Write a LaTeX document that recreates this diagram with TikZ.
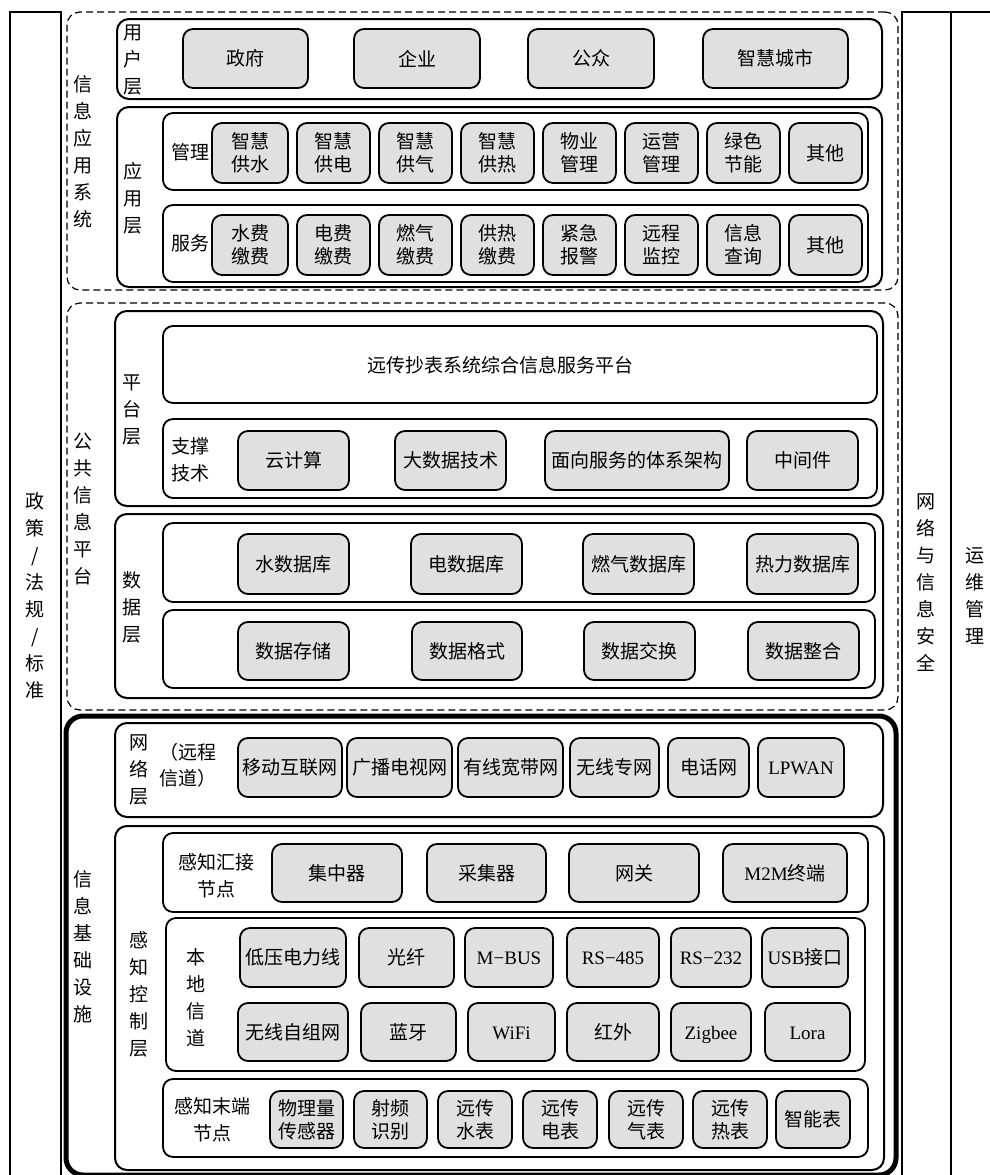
\documentclass[tikz,border=0pt]{standalone}
\usepackage{fontspec}
\setmainfont{Noto Sans CJK SC}
\newfontfamily\lat{Liberation Serif}
\newcommand\la[1]{\smash{\lat #1}\vphantom{中}}
\newcommand\mybox[7]{\node[#1, minimum width={(#5-#3)*1pt}, minimum height={(#6-#4)*1pt}] (#2) at ({(#3+#5)/2},{(#4+#6)/2}) {#7};}
\tikzset{
  base/.style={draw, line width=1.8pt, rounded corners=10pt, inner sep=0pt, outer sep=0pt, align=center, font=\fontsize{19}{23}\selectfont},
  gb/.style={base, fill=black!12},
  rowbox/.style={base},
  layerbox/.style={base, line width=2pt, rounded corners=12pt},
  dbox/.style={draw, line width=1.2pt, dash pattern=on 7pt off 4pt, rounded corners=13pt, inner sep=0pt, outer sep=0pt},
  tbox/.style={draw, line width=5pt, rounded corners=17pt, inner sep=0pt, outer sep=0pt},
  colbox/.style={draw, line width=2pt, inner sep=0pt, outer sep=0pt},
  lab/.style={align=center, inner sep=0pt, font=\fontsize{19}{27}\selectfont},
  lab2/.style={align=center, inner sep=0pt, font=\fontsize{19}{26}\selectfont},
}
\begin{document}
\begin{tikzpicture}[x=1pt,y=-1pt]
\useasboundingbox (0,0) rectangle (990,1175);
\fill[white] (0,0) rectangle (990,1175);
\clip (0,0) rectangle (990,1175);

% ---------- side columns ----------
\mybox{colbox}{policy}{10}{12}{61}{1195}{}
\node[lab] (policy-t) at (35,596) {政\\策\\/\\法\\规\\/\\标\\准};
\mybox{colbox}{sec}{902}{12}{951}{1195}{}
\node[lab] (sec-t) at (926,583) {网\\络\\与\\信\\息\\安\\全};
\mybox{colbox}{ops}{951}{12}{1005}{1195}{}
\node[lab] (ops-t) at (975,596) {运\\维\\管\\理};

% ---------- 信息应用系统 ----------
\mybox{dbox}{appsys}{67}{12}{898}{290}{}
\node[lab] (appsys-t) at (83,152) {信\\息\\应\\用\\系\\统};

% 用户层
\mybox{layerbox}{user}{117}{19}{882}{99}{}
\node[lab] (user-t) at (133,60) {用\\户\\层};
\mybox{gb}{u1}{183}{29}{308}{88}{政府}
\mybox{gb}{u2}{354}{29}{480}{88}{企业}
\mybox{gb}{u3}{528}{29}{654}{88}{公众}
\mybox{gb}{u4}{703}{29}{848}{88}{智慧城市}

% 应用层
\mybox{layerbox}{app}{117}{107}{882}{287}{}
\node[lab] (app-t) at (133,198) {应\\用\\层};
\mybox{rowbox}{mgmt}{163}{113}{868}{190}{}
\node[lab] (mgmt-t) at (190,152) {管理};
\mybox{gb}{m1}{212}{123}{288}{183}{智慧\\供水}
\mybox{gb}{m2}{297}{123}{370}{183}{智慧\\供电}
\mybox{gb}{m3}{379}{123}{452}{183}{智慧\\供气}
\mybox{gb}{m4}{461}{123}{534}{183}{智慧\\供热}
\mybox{gb}{m5}{543}{123}{616}{183}{物业\\管理}
\mybox{gb}{m6}{625}{123}{698}{183}{运营\\管理}
\mybox{gb}{m7}{707}{123}{780}{183}{绿色\\节能}
\mybox{gb}{m8}{789}{123}{862}{183}{其他}
\mybox{rowbox}{serv}{163}{205}{868}{282}{}
\node[lab] (serv-t) at (190,243) {服务};
\mybox{gb}{s1}{212}{215}{288}{275}{水费\\缴费}
\mybox{gb}{s2}{297}{215}{370}{275}{电费\\缴费}
\mybox{gb}{s3}{379}{215}{452}{275}{燃气\\缴费}
\mybox{gb}{s4}{461}{215}{534}{275}{供热\\缴费}
\mybox{gb}{s5}{543}{215}{616}{275}{紧急\\报警}
\mybox{gb}{s6}{625}{215}{698}{275}{远程\\监控}
\mybox{gb}{s7}{707}{215}{780}{275}{信息\\查询}
\mybox{gb}{s8}{789}{215}{862}{275}{其他}

% ---------- 公共信息平台 ----------
\mybox{dbox}{pub}{67}{303}{898}{710}{}
\node[lab] (pub-t) at (83,509) {公\\共\\信\\息\\平\\台};

% 平台层
\mybox{layerbox}{plat}{115}{311}{883}{506}{}
\node[lab] (plat-t) at (132,410) {平\\台\\层};
\mybox{rowbox}{svc}{163}{326}{877}{403}{}
\node[lab] (svc-t) at (500,365) {远传抄表系统综合信息服务平台};
\mybox{rowbox}{sup}{163}{419}{877}{498}{}
\node[lab] (sup-t) at (190,460) {支撑\\技术};
\mybox{gb}{t1}{238}{431}{349}{490}{云计算}
\mybox{gb}{t2}{395}{431}{506}{490}{大数据技术}
\mybox{gb}{t3}{545}{431}{729}{490}{面向服务的体系架构}
\mybox{gb}{t4}{747}{431}{858}{490}{中间件}

% 数据层
\mybox{layerbox}{data}{115}{514}{883}{698}{}
\node[lab] (data-t) at (132,607) {数\\据\\层};
\mybox{rowbox}{db}{163}{523}{875}{602}{}
\mybox{gb}{d1}{238}{534}{349}{594}{水数据库}
\mybox{gb}{d2}{411}{534}{522}{594}{电数据库}
\mybox{gb}{d3}{583}{534}{694}{594}{燃气数据库}
\mybox{gb}{d4}{747}{534}{858}{594}{热力数据库}
\mybox{rowbox}{dops}{163}{610}{875}{688}{}
\mybox{gb}{e1}{238}{622}{349}{680}{数据存储}
\mybox{gb}{e2}{412}{622}{522}{680}{数据格式}
\mybox{gb}{e3}{584}{622}{695}{680}{数据交换}
\mybox{gb}{e4}{748}{622}{859}{680}{数据整合}

% ---------- 信息基础设施 ----------
\mybox{tbox}{infra}{66}{716}{896}{1175}{}
\node[lab] (infra-t) at (83,947) {信\\息\\基\\础\\设\\施};

% 网络层
\mybox{layerbox}{net}{115}{723}{883}{817}{}
\node[lab] (net-t) at (139,770) {网\\络\\层};
\node[lab2] (remote-t) at (188,765) {（远程\\信道）};
\mybox{gb}{n1}{238}{738}{342}{797}{移动互联网}
\mybox{gb}{n2}{347}{738}{452}{797}{广播电视网}
\mybox{gb}{n3}{458}{738}{563}{797}{有线宽带网}
\mybox{gb}{n4}{570}{738}{659}{797}{无线专网}
\mybox{gb}{n5}{668}{738}{749}{797}{电话网}
\mybox{gb}{n6}{758}{738}{844}{797}{\la{LPWAN}}

% 感知控制层
\mybox{layerbox}{sense}{115}{826}{884}{1170}{}
\node[lab] (sense-t) at (139,994) {感\\知\\控\\制\\层};

\mybox{rowbox}{agg}{163}{833}{868}{912}{}
\node[lab] (agg-t) at (216,876) {感知汇接\\节点};
\mybox{gb}{a1}{272}{844}{402}{902}{集中器}
\mybox{gb}{a2}{427}{844}{546}{902}{采集器}
\mybox{gb}{a3}{569}{844}{699}{902}{网关}
\mybox{gb}{a4}{723}{844}{847}{902}{{\lat M2M}终端}

\mybox{rowbox}{local}{166}{918}{865}{1071}{}
\node[lab] (local-t) at (196,998) {本\\地\\信\\道};
\mybox{gb}{l1}{240}{928}{346}{987}{低压电力线}
\mybox{gb}{l2}{359}{928}{454}{987}{光纤}
\mybox{gb}{l3}{465}{928}{553}{987}{\la{M−BUS}}
\mybox{gb}{l4}{567}{928}{659}{987}{\la{RS−485}}
\mybox{gb}{l5}{671}{928}{751}{987}{\la{RS−232}}
\mybox{gb}{l6}{762}{928}{848}{987}{{\lat USB}接口}
\mybox{gb}{w1}{238}{1003}{348}{1061}{无线自组网}
\mybox{gb}{w2}{361}{1003}{456}{1061}{蓝牙}
\mybox{gb}{w3}{468}{1003}{555}{1061}{\la{WiFi}}
\mybox{gb}{w4}{567}{1003}{659}{1061}{红外}
\mybox{gb}{w5}{671}{1003}{751}{1061}{\la{Zigbee}}
\mybox{gb}{w6}{765}{1003}{850}{1061}{\la{Lora}}

\mybox{rowbox}{term}{163}{1079}{868}{1157}{}
\node[lab] (term-t) at (212,1120) {感知末端\\节点};
\mybox{gb}{p1}{270}{1091}{343}{1148}{物理量\\传感器}
\mybox{gb}{p2}{354}{1091}{427}{1148}{射频\\识别}
\mybox{gb}{p3}{438}{1091}{512}{1148}{远传\\水表}
\mybox{gb}{p4}{523}{1091}{597}{1148}{远传\\电表}
\mybox{gb}{p5}{609}{1091}{683}{1148}{远传\\气表}
\mybox{gb}{p6}{693}{1091}{767}{1148}{远传\\热表}
\mybox{gb}{p7}{776}{1091}{850}{1148}{智能表}
\end{tikzpicture}
\end{document}
